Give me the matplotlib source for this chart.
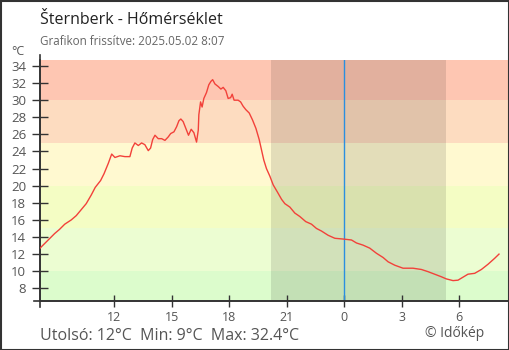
import matplotlib
matplotlib.use('Agg')
import matplotlib.pyplot as plt
from matplotlib.patches import Rectangle
from matplotlib.lines import Line2D

plt.rcParams['font.family'] = ['Open Sans', 'DejaVu Sans']

# hours since 2025.05.01 00:00
hours = [8.12, 8.88, 9.14, 9.41, 9.75, 10.01, 10.27, 10.53, 10.79, 11.00,
         11.28, 11.46, 11.68, 11.86, 12.03, 12.29, 12.55, 12.81, 12.93, 13.07,
         13.25, 13.42, 13.59, 13.77, 13.89, 14.00, 14.12, 14.29, 14.47, 14.64,
         14.81, 14.94, 15.11, 15.25, 15.37, 15.47, 15.59, 15.73, 15.87, 16.01,
         16.15, 16.29, 16.38, 16.41, 16.50, 16.58, 16.67, 16.81, 16.93, 17.04,
         17.13, 17.25, 17.42, 17.56, 17.68, 17.82, 17.94, 18.07, 18.15, 18.25,
         18.46, 18.59, 18.72, 18.86, 19.04, 19.21, 19.39, 19.56, 19.68, 19.80,
         19.94, 20.12, 20.29, 20.50, 20.73, 20.90, 21.16, 21.42, 21.68, 21.99,
         22.29, 22.55, 22.81, 23.16, 23.51, 23.99, 24.38, 24.64, 24.98, 25.33,
         25.68, 26.03, 26.29, 26.64, 27.07, 27.59, 28.03, 28.37, 28.72, 29.07,
         29.33, 29.68, 29.94, 30.20, 30.46, 30.81, 31.16, 31.50, 31.85, 32.08]
temps = [12.7, 14.4, 14.9, 15.5, 16.0, 16.5, 17.2, 17.9, 18.9, 19.8,
         20.6, 21.4, 22.6, 23.7, 23.3, 23.5, 23.4, 23.4, 24.4, 25.0,
         24.7, 25.0, 24.8, 24.1, 24.4, 25.4, 25.9, 25.5, 25.5, 25.3,
         25.7, 26.1, 26.3, 26.9, 27.6, 27.8, 27.5, 26.7, 25.9, 26.6,
         26.2, 25.1, 26.5, 28.3, 29.8, 29.2, 30.2, 30.9, 31.8, 32.2,
         32.4, 31.9, 31.6, 31.3, 31.5, 31.1, 30.2, 30.3, 30.7, 30.0,
         30.0, 29.8, 29.3, 28.9, 28.5, 27.7, 26.7, 25.4, 24.2, 23.0,
         22.0, 21.1, 20.1, 19.3, 18.4, 17.9, 17.5, 16.8, 16.4, 15.8,
         15.5, 15.0, 14.7, 14.2, 13.85, 13.75, 13.65, 13.3, 13.05, 12.7,
         12.1, 11.6, 11.1, 10.7, 10.35, 10.35, 10.2, 9.95, 9.65, 9.35,
         9.1, 8.9, 8.95, 9.3, 9.65, 9.75, 10.2, 10.8, 11.5, 12.0]

# temperature bands
band_edges = [-50, 10, 15, 20, 25, 30, 60]
band_colors = ['#dcfccc', '#ecfdd2', '#f4fdc4', '#fff9d0', '#fddcc0', '#fec6b2']

sunset, sunrise, midnight = 20.17, 29.33, 24.0
xticks = [12, 15, 18, 21, 24, 27, 30]
xlabels = ['12', '15', '18', '21', '0', '3', '6']
yticks = list(range(8, 35, 2))

fig = plt.figure(figsize=(5.1, 3.5), dpi=100)
ax = fig.add_axes([40/510, 1 - 300.7/350, 468/510, 240.7/350])

for i in range(len(band_colors)):
    ax.axhspan(band_edges[i], band_edges[i+1], color=band_colors[i], lw=0, zorder=0)
ax.axvspan(sunset, sunrise, color='black', alpha=0.11, lw=0, zorder=1)
ax.axvline(midnight, color='#2a8fe0', lw=1, zorder=2)
ax.plot(hours, temps, color='#f2413a', lw=1.0, zorder=3)

ax.set_xlim(8.117, 32.55)
ax.set_ylim(6.55, 34.7)
ax.set_xticks(xticks)
ax.set_xticklabels(xlabels)
ax.set_yticks(yticks)

for s in ['top', 'right']:
    ax.spines[s].set_visible(False)
for s in ['left', 'bottom']:
    ax.spines[s].set_color('#333333')
    ax.spines[s].set_linewidth(1.2)
ax.tick_params(axis='y', direction='inout', length=12, width=1, color='#333333',
               labelsize=9.5, labelcolor='#555555', pad=4)
ax.tick_params(axis='x', direction='inout', length=9, width=1, color='#333333',
               labelsize=9, labelcolor='#555555', pad=3)

# spine overhangs
ax.add_line(Line2D([0, 0], [-0.025, 1.02], transform=ax.transAxes, color='#333333',
                   lw=1.2, clip_on=False))
ax.add_line(Line2D([-0.013, 1.0], [0, 0], transform=ax.transAxes, color='#333333',
                   lw=1.2, clip_on=False))

fig.text(40/510, 1 - 24/350, 'Šternberk - Hőmérséklet', fontsize=11.5, color='#222222')
fig.text(40/510, 1 - 45/350, 'Grafikon frissítve: 2025.05.02 8:07', fontsize=8.4,
         color='#666666')
fig.text(11/510, 1 - 55/350, '°C', fontsize=9, color='#555555')
fig.text(40/510, 1 - 340/350, 'Utolsó: 12°C  Min: 9°C  Max: 32.4°C', fontsize=11.5,
         color='#555555')
fig.text(425/510, 1 - 337/350, '© Időkép', fontsize=10, color='#555555')

fig.patches.append(Rectangle((0.001, 0.001), 0.997, 0.996, transform=fig.transFigure,
                             fill=False, edgecolor='#333333', lw=1.5))

fig.savefig('out.png', dpi=100)
